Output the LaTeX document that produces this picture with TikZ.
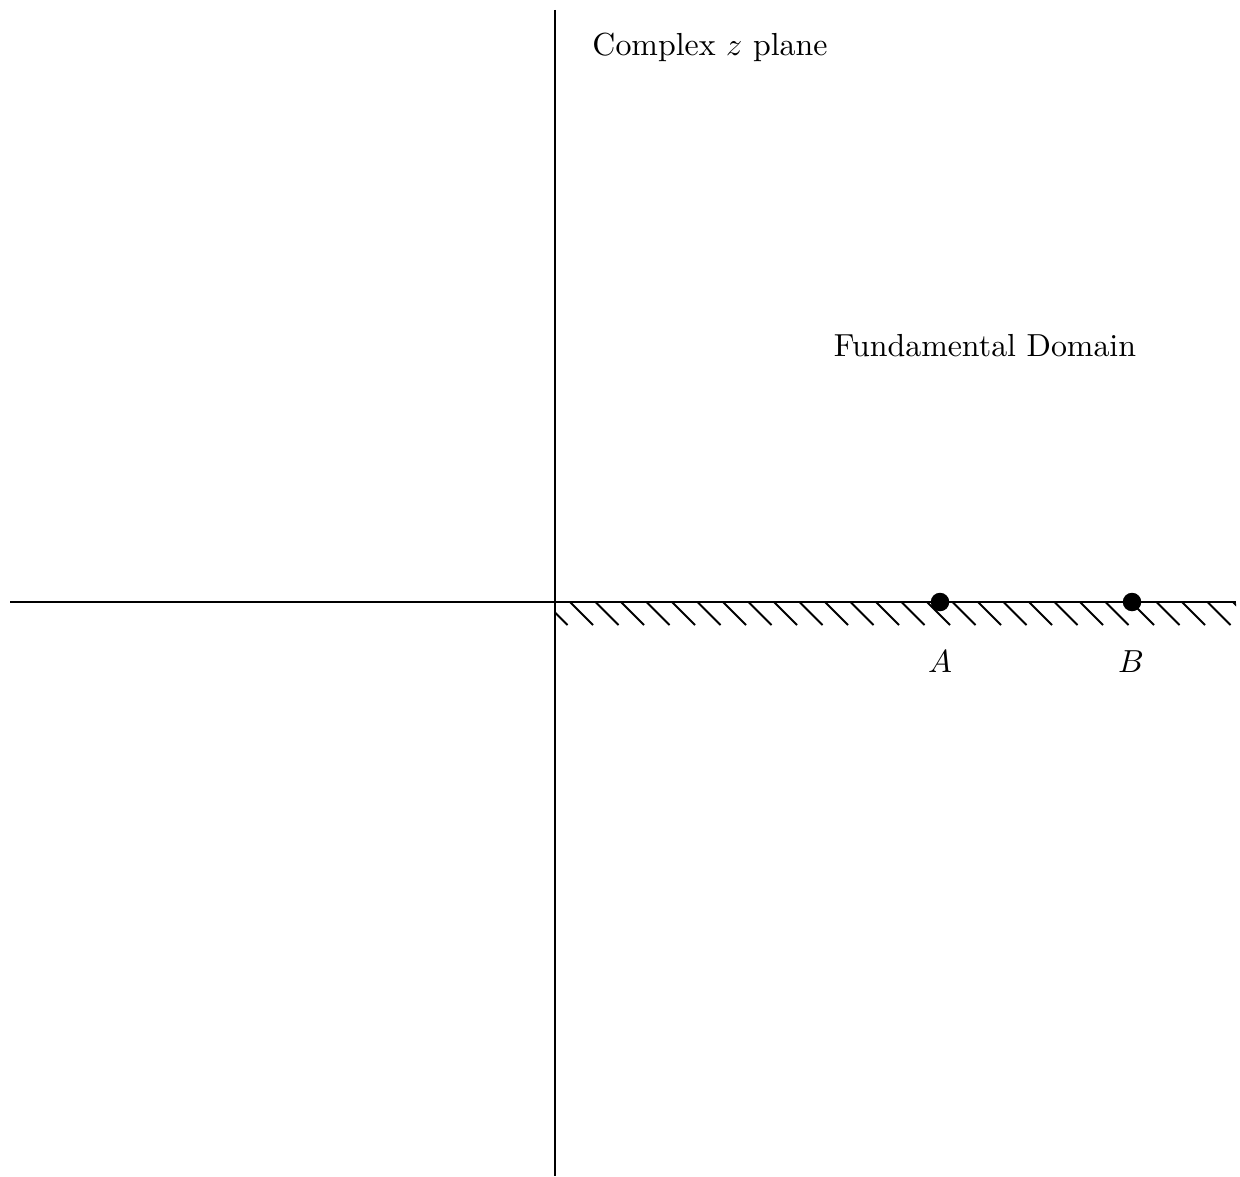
\documentclass[tikz,border=0pt]{standalone}
\newcommand{\bigtxt}[1]{\scalebox{1.815}{#1}}
\begin{document}
\begin{tikzpicture}[x=0.02cm,y=-0.02cm,
  axis/.style={line width=1.6pt},
  hatch/.style={line width=1.1pt},
  pt/.style={circle,fill=black,inner sep=0pt,minimum size=0.37cm},
  lbl/.style={inner sep=0pt}]
\useasboundingbox (0,0) rectangle (1240,1176);
\coordinate (ytop) at (555,10);
\coordinate (ybot) at (555,1176);
\coordinate (xl) at (10,602);
\coordinate (xr) at (1236,602);
\draw[axis] (ytop) -- (ybot);
\draw[axis] (xl) -- (xr);
\begin{scope}
\clip (555,600) rectangle (1236,630);
\foreach \k in {0,...,27}{
  \draw[hatch] ({544.5+25.5*\k},602) -- ({567.5+25.5*\k},625);
}
\end{scope}
\node[pt] (A) at (940,602) {};
\node[pt] (B) at (1132,602) {};
\node[lbl] (Al) at (940,662) {\bigtxt{$A$}};
\node[lbl] (Bl) at (1131,662) {\bigtxt{$B$}};
\node[lbl] (title) at (710,47) {\bigtxt{Complex $z$ plane}};
\node[lbl] (fd) at (985,346) {\bigtxt{Fundamental Domain}};
\end{tikzpicture}
\end{document}
